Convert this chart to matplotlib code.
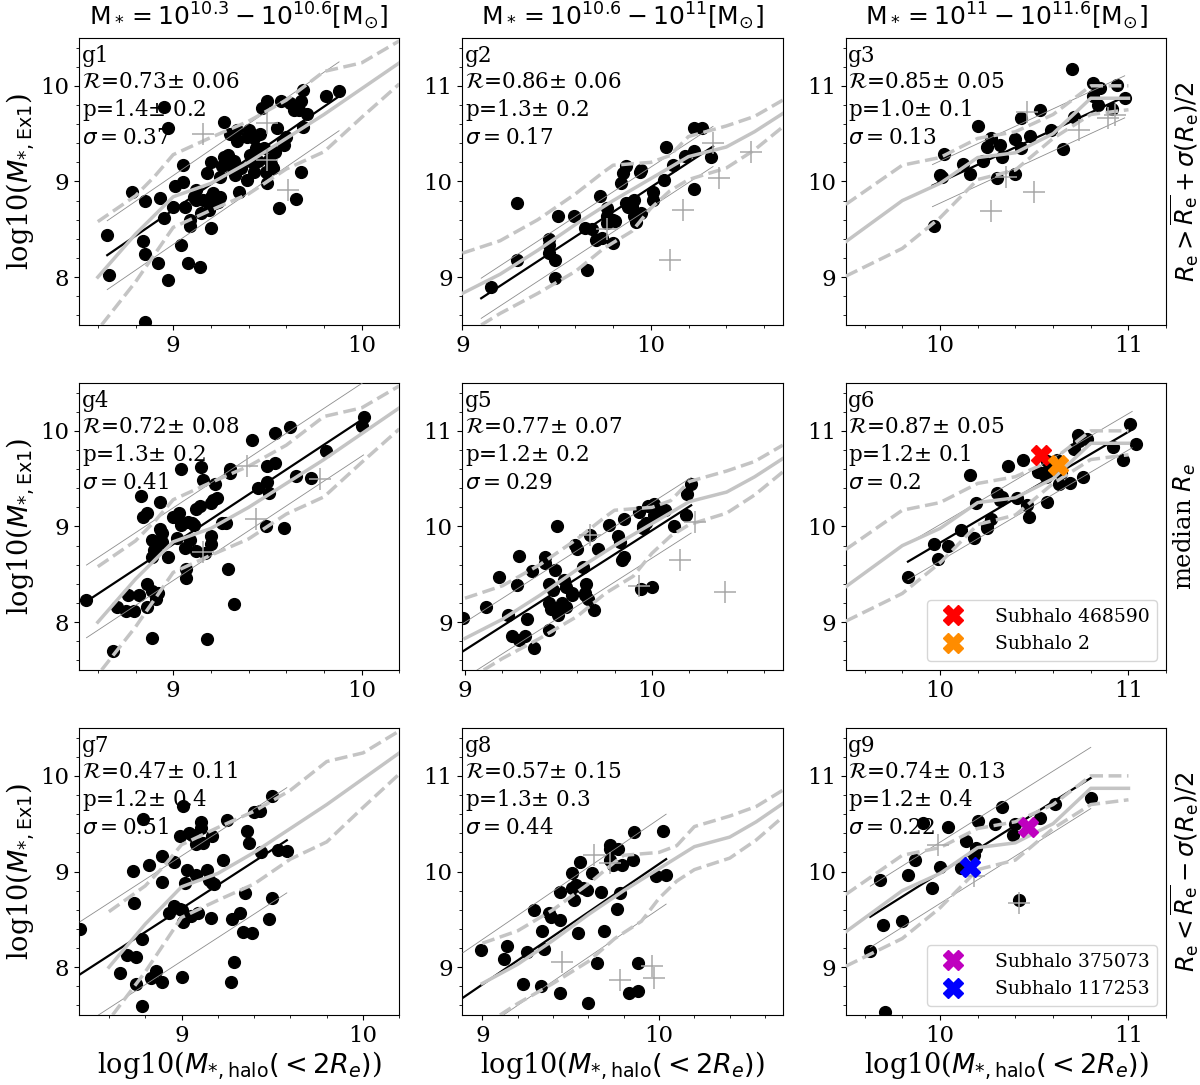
import numpy as np
import matplotlib.pyplot as plt
from matplotlib.ticker import MultipleLocator

plt.rcParams['font.family'] = ['DejaVu Serif']
plt.rcParams['mathtext.fontset'] = 'dejavusans'

# ---- reference curves of the whole mass bin (same in each column) ----
c1_med_x = [8.6, 8.8, 9.0, 9.2, 9.4, 9.6, 9.8, 10.0, 10.2]
c1_med_y = [8.0, 8.45, 8.84, 8.98, 9.2, 9.45, 9.7, 9.97, 10.24]
c1_up_x = [8.6, 8.8, 8.9, 9.0, 9.2, 9.4, 9.6, 9.8, 10.0, 10.2]
c1_up_y = [8.58, 8.85, 9.05, 9.28, 9.46, 9.63, 9.85, 10.15, 10.24, 10.47]
c1_lo_x = [8.62, 8.8, 9.0, 9.2, 9.4, 9.6, 9.8, 10.0, 10.2]
c1_lo_y = [7.5, 7.95, 8.52, 8.7, 8.87, 9.13, 9.31, 9.67, 10.02]

c2_med_x = [9.0, 9.2, 9.4, 9.6, 9.8, 10.0, 10.2, 10.4, 10.55, 10.7]
c2_med_y = [8.83, 9.03, 9.28, 9.55, 9.8, 10.03, 10.26, 10.36, 10.52, 10.71]
c2_up_x = [9.0, 9.2, 9.4, 9.6, 9.75, 9.8, 10.0, 10.1, 10.2, 10.4, 10.55, 10.7]
c2_up_y = [9.25, 9.38, 9.6, 9.87, 10.1, 10.17, 10.2, 10.27, 10.47, 10.58, 10.68, 10.85]
c2_lo_x = [9.1, 9.2, 9.4, 9.6, 9.75, 9.9, 10.0, 10.1, 10.2, 10.4, 10.55, 10.7]
c2_lo_y = [8.5, 8.62, 8.83, 9.06, 9.3, 9.48, 9.72, 9.9, 10.02, 10.14, 10.33, 10.57]

c3_med_x = [9.5, 9.8, 10.0, 10.2, 10.4, 10.6, 10.8, 11.0]
c3_med_y = [9.37, 9.8, 9.98, 10.25, 10.3, 10.5, 10.87, 10.87]
c3_up_x = [9.5, 9.8, 10.0, 10.2, 10.4, 10.6, 10.8, 11.0]
c3_up_y = [9.76, 10.17, 10.25, 10.45, 10.52, 10.7, 11.0, 11.0]
c3_lo_x = [9.5, 9.8, 10.0, 10.2, 10.4, 10.6, 10.8, 11.0]
c3_lo_y = [9.01, 9.3, 9.62, 10.02, 10.12, 10.45, 10.7, 10.75]

# ---- galaxies per panel ----
g1_x = [8.65, 8.66, 8.78, 8.85, 8.84, 8.85, 8.85, 8.92, 8.93, 8.95, 8.97, 8.95, 8.97, 9.00, 9.01,
        9.04, 9.05, 9.05, 9.06, 9.08, 9.09, 9.09, 9.11, 9.12, 9.12, 9.14, 9.15, 9.16, 9.18, 9.19,
        9.20, 9.20, 9.20, 9.21, 9.22, 9.23, 9.24, 9.25, 9.25, 9.26, 9.27, 9.27, 9.28, 9.29, 9.30,
        9.31, 9.32, 9.33, 9.34, 9.34, 9.35, 9.36, 9.39, 9.39, 9.40, 9.41, 9.42, 9.43, 9.43, 9.44,
        9.45, 9.46, 9.47, 9.48, 9.49, 9.50, 9.50, 9.51, 9.52, 9.53, 9.54, 9.55, 9.56, 9.57, 9.58,
        9.59, 9.60, 9.62, 9.64, 9.65, 9.66, 9.67, 9.68, 9.68, 9.69, 9.69, 9.71, 9.81, 9.88]
g1_y = [8.44, 8.02, 8.89, 8.80, 8.38, 8.24, 7.53, 8.15, 8.83, 8.62, 7.97, 9.78, 9.56, 8.73, 8.95,
        8.34, 8.99, 9.17, 8.73, 8.15, 8.60, 8.53, 8.84, 8.81, 8.91, 8.11, 8.67, 8.81, 9.09, 8.70,
        8.84, 8.51, 9.20, 8.88, 8.77, 8.81, 8.79, 8.84, 9.05, 9.16, 9.62, 9.26, 9.20, 9.28, 9.50,
        9.16, 9.21, 9.07, 9.42, 9.54, 8.89, 9.14, 9.47, 9.02, 9.54, 9.28, 9.20, 9.45, 9.10, 9.35,
        9.21, 9.50, 9.77, 9.35, 9.10, 9.84, 8.98, 9.22, 9.18, 9.14, 9.31, 9.56, 8.72, 9.84, 9.42,
        9.38, 9.47, 9.82, 9.75, 8.82, 9.77, 9.75, 9.84, 9.10, 9.57, 9.96, 9.71, 9.89, 9.95]
g1_px = [9.16, 9.50, 9.50, 9.61]
g1_py = [9.50, 9.61, 9.22, 8.91]

g2_x = [9.15, 9.29, 9.29, 9.46, 9.46, 9.46, 9.49, 9.49, 9.51, 9.59, 9.65, 9.66, 9.69, 9.71, 9.73,
        9.74, 9.77, 9.77, 9.77, 9.80, 9.80, 9.81, 9.84, 9.85, 9.87, 9.87, 9.88, 9.89, 9.90, 9.91,
        9.91, 9.92, 9.94, 9.95, 9.95, 10.01, 10.01, 10.07, 10.08, 10.12, 10.18, 10.23, 10.23,
        10.23, 10.27, 10.32]
g2_y = [8.90, 9.77, 9.18, 9.40, 9.34, 9.25, 9.18, 8.99, 9.64, 9.64, 9.51, 9.07, 9.50, 9.39, 9.85,
        9.41, 9.72, 9.64, 9.57, 9.60, 9.36, 9.59, 9.98, 10.09, 10.16, 9.78, 9.73, 9.77, 9.74, 9.81,
        9.64, 9.58, 10.10, 10.12, 9.67, 9.89, 9.81, 10.02, 10.36, 10.17, 10.27, 9.92, 10.32,
        10.56, 10.56, 10.26]
g2_px = [9.77, 10.33, 10.53, 10.36, 10.17, 10.10]
g2_py = [9.50, 10.40, 10.31, 10.04, 9.70, 9.18]

g3_x = [9.97, 10.00, 10.01, 10.02, 10.12, 10.16, 10.20, 10.23, 10.25, 10.27, 10.30, 10.32, 10.33,
        10.40, 10.40, 10.43, 10.43, 10.48, 10.53, 10.59, 10.65, 10.70, 10.71, 10.81, 10.81, 10.84,
        10.85, 10.91, 10.94, 10.98]
g3_y = [9.53, 10.07, 10.05, 10.29, 10.18, 10.08, 10.58, 10.21, 10.36, 10.45, 10.04, 10.38, 10.26,
        10.08, 10.44, 10.35, 10.66, 10.48, 10.75, 10.54, 10.34, 11.18, 10.67, 11.03, 10.89, 10.80,
        10.98, 10.76, 11.01, 10.87]
g3_px = [10.27, 10.35, 10.46, 10.50, 10.74, 10.89, 10.93]
g3_py = [9.69, 10.05, 10.73, 9.89, 10.54, 10.66, 10.70]

g4_x = [8.54, 8.68, 8.70, 8.75, 8.76, 8.79, 8.82, 8.83, 8.84, 8.86, 8.86, 8.86, 8.89, 8.89, 8.89,
        8.89, 8.90, 8.91, 8.91, 8.92, 8.93, 8.93, 8.94, 8.94, 8.97, 9.00, 9.02, 9.03, 9.04, 9.04,
        9.04, 9.06, 9.07, 9.07, 9.08, 9.09, 9.10, 9.11, 9.12, 9.12, 9.14, 9.15, 9.16, 9.17, 9.18,
        9.20, 9.20, 9.20, 9.21, 9.22, 9.23, 9.26, 9.28, 9.29, 9.30, 9.30, 9.32, 9.42, 9.45, 9.49,
        9.50, 9.50, 9.51, 9.54, 9.54, 9.59, 9.62, 9.65, 9.73, 9.81, 10.00, 10.01]
g4_y = [8.23, 7.70, 8.16, 8.12, 8.28, 8.12, 8.28, 9.32, 9.10, 9.14, 8.40, 8.16, 7.83, 8.33, 8.86,
        8.68, 8.75, 8.79, 8.24, 8.30, 9.26, 8.97, 8.93, 8.84, 8.68, 9.10, 8.88, 9.14, 9.60, 9.04,
        9.02, 8.77, 8.56, 8.46, 9.05, 8.86, 9.04, 9.02, 9.18, 8.74, 9.21, 9.62, 9.49, 8.72, 7.82,
        8.82, 9.25, 8.90, 9.28, 9.44, 9.30, 9.04, 9.04, 8.56, 9.60, 9.56, 8.19, 9.90, 9.40, 9.01,
        9.46, 9.63, 9.35, 9.66, 9.98, 8.98, 10.04, 9.53, 9.51, 9.79, 10.05, 10.14]
g4_px = [9.39, 9.44, 9.16, 9.78]
g4_py = [9.63, 9.08, 8.73, 9.50]

g5_x = [8.99, 9.11, 9.18, 9.23, 9.25, 9.28, 9.29, 9.29, 9.32, 9.33, 9.36, 9.37, 9.43, 9.43, 9.45,
        9.45, 9.45, 9.46, 9.47, 9.48, 9.49, 9.49, 9.50, 9.52, 9.53, 9.54, 9.54, 9.57, 9.57, 9.59,
        9.60, 9.63, 9.64, 9.64, 9.65, 9.66, 9.67, 9.69, 9.71, 9.77, 9.82, 9.83, 9.84, 9.85, 9.85,
        9.93, 9.95, 9.95, 9.97, 9.98, 9.94, 10.00, 10.01, 10.01, 10.02, 10.04, 10.07, 10.12,
        10.18, 10.19, 10.21]
g5_y = [9.04, 9.16, 9.47, 9.08, 8.86, 9.39, 8.81, 9.69, 8.86, 9.03, 9.54, 8.73, 9.68, 9.62, 8.92,
        9.40, 9.20, 9.14, 9.34, 9.55, 10.00, 9.12, 9.08, 9.20, 9.44, 9.37, 9.16, 9.30, 9.28, 9.81,
        9.76, 9.58, 9.30, 9.28, 9.40, 9.24, 9.91, 9.13, 9.76, 10.02, 9.90, 9.84, 9.65, 10.08, 9.68,
        10.15, 9.98, 10.01, 10.04, 10.21, 9.35, 9.37, 10.12, 10.23, 10.19, 10.17, 10.17, 10.01,
        10.12, 10.34, 10.44]
g5_px = [9.67, 9.93, 10.15, 10.23, 10.39]
g5_py = [9.91, 9.38, 9.65, 10.05, 9.32]

g6_x = [9.83, 9.97, 9.99, 10.04, 10.11, 10.16, 10.18, 10.19, 10.25, 10.25, 10.27, 10.30, 10.32,
        10.33, 10.36, 10.41, 10.44, 10.46, 10.47, 10.52, 10.54, 10.56, 10.57, 10.57, 10.58, 10.60,
        10.62, 10.63, 10.64, 10.69, 10.71, 10.73, 10.74, 10.76, 10.78, 10.92, 10.97, 11.01, 11.04]
g6_y = [9.47, 9.82, 9.66, 9.80, 9.96, 10.54, 9.88, 10.25, 9.98, 10.01, 10.08, 10.35, 10.28,
        10.31, 10.63, 10.30, 10.69, 10.22, 10.10, 10.57, 10.56, 10.52, 10.68, 10.26, 10.59, 10.62,
        10.70, 10.44, 10.56, 10.45, 10.81, 10.96, 10.89, 10.52, 10.91, 10.83, 10.69, 11.07, 10.86]
g6_px = []
g6_py = []

g7_x = [8.44, 8.66, 8.70, 8.73, 8.74, 8.75, 8.75, 8.78, 8.78, 8.79, 8.82, 8.83, 8.86, 8.89, 8.89,
        8.89, 8.93, 8.96, 8.96, 8.99, 8.99, 9.00, 9.00, 9.01, 9.01, 9.02, 9.03, 9.04, 9.05, 9.06,
        9.08, 9.08, 9.09, 9.11, 9.11, 9.12, 9.14, 9.15, 9.16, 9.17, 9.17, 9.18, 9.23, 9.25, 9.27,
        9.28, 9.29, 9.32, 9.34, 9.35, 9.36, 9.37, 9.39, 9.40, 9.43, 9.44, 9.48, 9.50, 9.50, 9.53,
        9.58]
g7_y = [8.40, 7.94, 8.13, 9.01, 8.67, 7.82, 8.11, 8.29, 7.59, 9.55, 9.07, 7.89, 7.96, 9.16, 7.84,
        8.89, 8.57, 9.10, 8.64, 9.37, 8.61, 8.60, 7.90, 9.69, 8.47, 8.88, 9.02, 9.40, 8.53, 9.38,
        9.29, 8.96, 8.57, 9.45, 9.52, 9.30, 9.02, 8.91, 8.51, 8.88, 9.37, 8.87, 9.12, 9.54, 7.84,
        8.50, 8.05, 8.57, 8.37, 8.78, 9.42, 9.30, 8.36, 9.62, 9.63, 9.20, 8.50, 9.79, 8.72, 9.23,
        9.21]
g7_px = []
g7_py = []

g8_x = [8.99, 9.12, 9.14, 9.25, 9.23, 9.29, 9.33, 9.34, 9.35, 9.38, 9.39, 9.44, 9.44, 9.44, 9.51,
        9.51, 9.52, 9.53, 9.54, 9.55, 9.57, 9.59, 9.60, 9.62, 9.65, 9.67, 9.69, 9.72, 9.72, 9.72,
        9.74, 9.76, 9.77, 9.78, 9.79, 9.83, 9.85, 9.86, 9.88, 9.88, 9.98, 10.02, 10.04]
g8_y = [9.18, 9.09, 9.22, 9.16, 8.82, 9.60, 8.80, 9.38, 9.19, 9.57, 9.52, 9.49, 9.79, 8.73, 9.98,
        9.83, 9.70, 9.86, 9.36, 10.10, 9.83, 9.81, 8.63, 9.98, 9.04, 9.79, 9.38, 10.28, 10.24, 10.12,
        10.07, 9.61, 10.24, 9.78, 10.07, 8.73, 10.12, 10.41, 9.04, 8.75, 9.95, 10.42, 9.96]
g8_px = [9.63, 9.72, 9.45, 9.78, 9.96, 9.97]
g8_py = [10.17, 10.09, 9.05, 8.87, 9.01, 8.89]

g9_x = [9.63, 9.68, 9.70, 9.71, 9.80, 9.83, 9.87, 9.91, 9.96, 10.00, 10.04, 10.11, 10.14, 10.18,
        10.19, 10.20, 10.29, 10.33, 10.39, 10.40, 10.42, 10.53, 10.61, 10.80]
g9_y = [9.17, 9.91, 9.44, 8.53, 9.48, 9.96, 10.12, 10.51, 9.83, 10.05, 10.47, 10.04, 10.32, 10.17,
        10.25, 10.53, 10.50, 10.67, 10.38, 10.50, 9.70, 10.56, 10.71, 10.77]
g9_px = [9.99, 10.18, 10.42]
g9_py = [10.28, 9.95, 9.67]

# linear fits: slope, intercept, x-range, half width of the scatter band
fit_slope = [1.35, 1.29, 0.91, 1.30, 1.25, 1.16, 1.23, 1.26, 1.24]
fit_icpt = [-3.448, -2.960, 0.893, -2.885, -2.541, -1.770, -2.457, -2.521, -2.414]
fit_xlo = [8.65, 9.10, 9.96, 8.54, 8.99, 9.83, 8.44, 8.89, 9.63]
fit_xhi = [9.88, 10.33, 10.98, 10.01, 10.21, 11.02, 9.58, 10.04, 10.80]
fit_band = [0.36, 0.21, 0.22, 0.38, 0.29, 0.19, 0.55, 0.47, 0.32]

stat_R = ['0.73', '0.86', '0.85', '0.72', '0.77', '0.87', '0.47', '0.57', '0.74']
stat_Rerr = ['0.06', '0.06', '0.05', '0.08', '0.07', '0.05', '0.11', '0.15', '0.13']
stat_p = ['1.4', '1.3', '1.0', '1.3', '1.2', '1.2', '1.2', '1.3', '1.2']
stat_perr = ['0.2', '0.2', '0.1', '0.2', '0.2', '0.1', '0.4', '0.3', '0.4']
stat_sig = ['0.37', '0.17', '0.13', '0.41', '0.29', '0.2', '0.51', '0.44', '0.22']

xlims = [(8.5, 10.2), (9.0, 10.7), (9.5, 11.2),
         (8.5, 10.2), (8.986, 10.7), (9.5, 11.2),
         (8.435, 10.2), (8.887, 10.7), (9.5, 11.2)]
ylims = [(7.5, 10.5), (8.5, 11.5), (8.5, 11.5)]

col_titles = [r'$\rm M_* = 10^{10.3} - 10^{10.6} [M_{\odot}]$',
              r'$\rm M_* = 10^{10.6} - 10^{11} [M_{\odot}]$',
              r'$\rm M_* = 10^{11} - 10^{11.6} [M_{\odot}]$']
row_labels = [r'$R_{\rm e} > \overline{R_{\rm e}} + \sigma(R_{\rm e})/2$',
              r'median $R_e$',
              r'$R_{\rm e} < \overline{R_{\rm e}} - \sigma(R_{\rm e})/2$']

# special subhaloes
sub6_names = ['Subhalo 468590', 'Subhalo 2']
sub6_x = [10.535, 10.628]
sub6_y = [10.75, 10.645]
sub6_col = ['red', 'darkorange']
sub9_names = ['Subhalo 375073', 'Subhalo 117253']
sub9_x = [10.469, 10.159]
sub9_y = [10.463, 10.045]
sub9_col = ['m', 'blue']

gal_x = [g1_x, g2_x, g3_x, g4_x, g5_x, g6_x, g7_x, g8_x, g9_x]
gal_y = [g1_y, g2_y, g3_y, g4_y, g5_y, g6_y, g7_y, g8_y, g9_y]
plus_x = [g1_px, g2_px, g3_px, g4_px, g5_px, g6_px, g7_px, g8_px, g9_px]
plus_y = [g1_py, g2_py, g3_py, g4_py, g5_py, g6_py, g7_py, g8_py, g9_py]
curves = [(c1_med_x, c1_med_y, c1_up_x, c1_up_y, c1_lo_x, c1_lo_y),
          (c2_med_x, c2_med_y, c2_up_x, c2_up_y, c2_lo_x, c2_lo_y),
          (c3_med_x, c3_med_y, c3_up_x, c3_up_y, c3_lo_x, c3_lo_y)]

fig = plt.figure(figsize=(12, 10.85), dpi=100)
lefts = [0.0658, 0.3853, 0.7048]
bottoms = [0.7005, 0.3825, 0.0645]
W, H = 0.267, 0.2645

LIGHT = '#c4c4c4'

for i in range(9):
    row, col = divmod(i, 3)
    ax = fig.add_axes([lefts[col], bottoms[row], W, H])

    ax.scatter(gal_x[i], gal_y[i], s=72, c='k', zorder=2)

    xf = np.array([fit_xlo[i], fit_xhi[i]])
    yf = fit_icpt[i] + fit_slope[i] * xf
    ax.plot(xf, yf, color='k', lw=1.6, zorder=3)
    ax.plot(xf, yf + fit_band[i], color='#8c8c8c', lw=0.6, zorder=3)
    ax.plot(xf, yf - fit_band[i], color='#8c8c8c', lw=0.6, zorder=3)

    mx, my, ux, uy, lx, ly = curves[col]
    ax.plot(mx, my, color=LIGHT, lw=2.5, zorder=4)
    ax.plot(ux, uy, color=LIGHT, lw=2.5, ls='--', zorder=4)
    ax.plot(lx, ly, color=LIGHT, lw=2.5, ls='--', zorder=4)

    if plus_x[i]:
        ax.scatter(plus_x[i], plus_y[i], marker='+', s=230, c='#a8a8a8',
                   linewidths=1.1, zorder=5)

    if i == 5:
        for nm, sx, sy, sc in zip(sub6_names, sub6_x, sub6_y, sub6_col):
            ax.plot(sx, sy, marker='X', ms=14, color=sc, ls='none', label=nm, zorder=6)
    if i == 8:
        for nm, sx, sy, sc in zip(sub9_names, sub9_x, sub9_y, sub9_col):
            ax.plot(sx, sy, marker='X', ms=14, color=sc, ls='none', label=nm, zorder=6)
    if i in (5, 8):
        ax.legend(loc='lower right', fontsize=13.5, handletextpad=1.2)

    txt = ('g%d\n' % (i + 1) +
           r'$\mathcal{R}$=' + stat_R[i] + r'$\pm$ ' + stat_Rerr[i] + '\n' +
           'p=' + stat_p[i] + r'$\pm$ ' + stat_perr[i] + '\n' +
           r'$\sigma=$' + stat_sig[i])
    ax.text(0.008, 0.975, txt, transform=ax.transAxes, va='top', ha='left',
            fontsize=15.5, linespacing=1.22, zorder=7)

    ax.set_xlim(*xlims[i])
    ax.set_ylim(*ylims[col])
    ax.xaxis.set_major_locator(MultipleLocator(1))
    ax.xaxis.set_minor_locator(MultipleLocator(0.2))
    ax.yaxis.set_major_locator(MultipleLocator(1))
    ax.yaxis.set_minor_locator(MultipleLocator(0.2))
    ax.tick_params(labelsize=16.5)

    if row == 0:
        ax.set_title(col_titles[col], fontsize=18, pad=9)
    if col == 0:
        ax.set_ylabel(r'log10($M_{*,\rm Ex1}$)', fontsize=19.5, labelpad=2)
    if row == 2:
        ax.set_xlabel(r'log10($M_{*,\rm halo}(<2R_e)$)', fontsize=19.5, labelpad=2)
    if col == 2:
        ax.text(1.058, 0.5, row_labels[row], transform=ax.transAxes, rotation=90,
                va='center', ha='center', fontsize=17.5)

fig.savefig('out.png', dpi=100)
